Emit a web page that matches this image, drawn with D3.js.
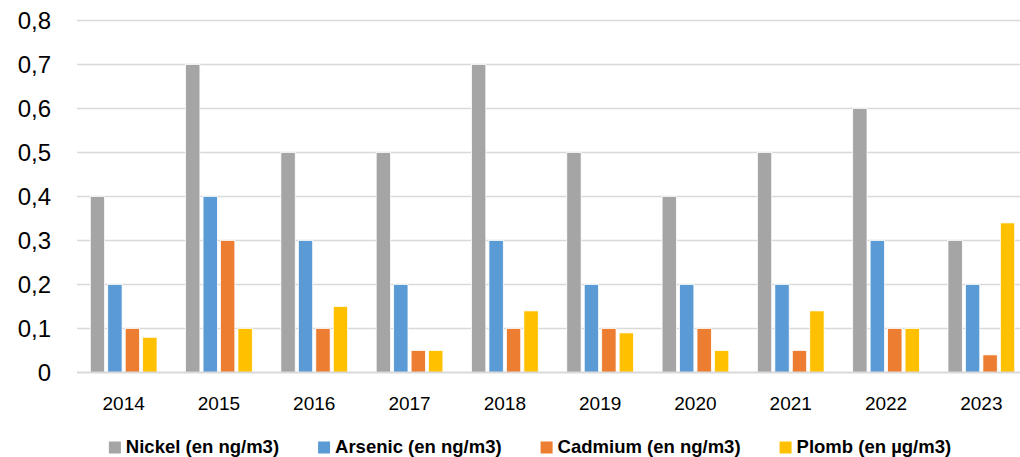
<!DOCTYPE html>
<html>
<head>
<meta charset="utf-8">
<script src="https://cdn.jsdelivr.net/npm/d3@7"></script>
<style>
  body { margin: 0; background: #fff; }
  svg { display: block; font-family: "Liberation Sans", Arial, sans-serif; }
</style>
</head>
<body>
<div id="chart"></div>
<script>
const years = ["2014", "2015", "2016", "2017", "2018", "2019", "2020", "2021", "2022", "2023"];
const seriesNames = ["Nickel (en ng/m3)", "Arsenic (en ng/m3)", "Cadmium (en ng/m3)", "Plomb (en µg/m3)"];
const nickel = [0.4, 0.7, 0.5, 0.5, 0.7, 0.5, 0.4, 0.5, 0.6, 0.3];
const arsenic = [0.2, 0.4, 0.3, 0.2, 0.3, 0.2, 0.2, 0.2, 0.3, 0.2];
const cadmium = [0.1, 0.3, 0.1, 0.05, 0.1, 0.1, 0.1, 0.05, 0.1, 0.04];
const plomb = [0.08, 0.1, 0.15, 0.05, 0.14, 0.09, 0.05, 0.14, 0.1, 0.34];
const yTicks = [0, 0.1, 0.2, 0.3, 0.4, 0.5, 0.6, 0.7, 0.8];
const colors = ["#a5a5a5", "#5b9bd5", "#ed7d31", "#ffc000"];

const WIDTH = 1020, HEIGHT = 457;
const PLOT = { LEFT: 77, RIGHT: 1029, TOP: 20.5, BOTTOM: 372.5 }; // plot area runs past right edge

const values = [nickel, arsenic, cadmium, plomb];
const rows = years.map((y, i) => ({ year: y, vals: values.map((s, k) => ({ key: k, v: s[i] })) }));

const svg = d3.select("#chart")
  .append("svg")
    .attr("width", WIDTH)
    .attr("height", HEIGHT);

const y = d3.scaleLinear()
  .domain([0, 0.8])
  .range([PLOT.BOTTOM, PLOT.TOP]);

const x = d3.scaleBand()
  .domain(years)
  .range([PLOT.LEFT - 1, PLOT.RIGHT])
  .paddingInner(0.3)
  .paddingOuter(0.15);

const xSub = d3.scaleBand()
  .domain(d3.range(4))
  .range([0, x.bandwidth()])
  .paddingInner(0.18);

// gridlines
svg.append("g")
  .selectAll("line")
  .data(yTicks.filter(d => d > 0))
  .join("line")
    .attr("x1", PLOT.LEFT)
    .attr("x2", WIDTH)
    .attr("y1", d => y(d))
    .attr("y2", d => y(d))
    .attr("stroke", "#d9d9d9")
    .attr("stroke-width", 1.5);

// y labels
svg.append("g")
  .selectAll("text")
  .data(yTicks)
  .join("text")
    .attr("x", 51)
    .attr("y", d => y(d) + 8)
    .attr("text-anchor", "end")
    .attr("font-size", 24)
    .attr("fill", "#000")
    .text(d => d3.format(".1~f")(d).replace(".", ","));

// bars
const groups = svg.append("g")
  .selectAll("g")
  .data(rows)
  .join("g")
    .attr("transform", d => `translate(${x(d.year)},0)`);

groups.selectAll("rect")
  .data(d => d.vals)
  .join("rect")
    .attr("x", d => xSub(d.key))
    .attr("y", d => y(d.v))
    .attr("width", xSub.bandwidth())
    .attr("height", d => y(0) - y(d.v))
    .attr("fill", d => colors[d.key])
    .attr("stroke", "#fff")
    .attr("stroke-width", 0.75);

// x axis line
svg.append("line")
  .attr("x1", PLOT.LEFT)
  .attr("x2", WIDTH)
  .attr("y1", y(0))
  .attr("y2", y(0))
  .attr("stroke", "#d9d9d9")
  .attr("stroke-width", 2);

// x labels
svg.append("g")
  .selectAll("text")
  .data(years)
  .join("text")
    .attr("x", d => x(d) + x.bandwidth() / 2)
    .attr("y", 410)
    .attr("text-anchor", "middle")
    .attr("font-size", 19)
    .attr("fill", "#000")
    .text(d => d);

// legend
const legend = svg.append("g");
const items = legend.selectAll("g")
  .data(seriesNames)
  .join("g");

items.append("rect")
  .attr("width", 12)
  .attr("height", 12)
  .attr("y", -11.5)
  .attr("fill", (d, i) => colors[i]);

items.append("text")
  .attr("x", 17)
  .attr("font-size", 18.5)
  .attr("font-weight", "bold")
  .attr("fill", "#000")
  .text(d => d);

let cursor = 0;
const gap = 39;
items.each(function () {
  const w = 17 + d3.select(this).select("text").node().getComputedTextLength();
  d3.select(this).attr("transform", `translate(${cursor},0)`);
  cursor += w + gap;
});
const total = cursor - gap;
legend.attr("transform", `translate(${530 - total / 2},453)`);
</script>
</body>
</html>
